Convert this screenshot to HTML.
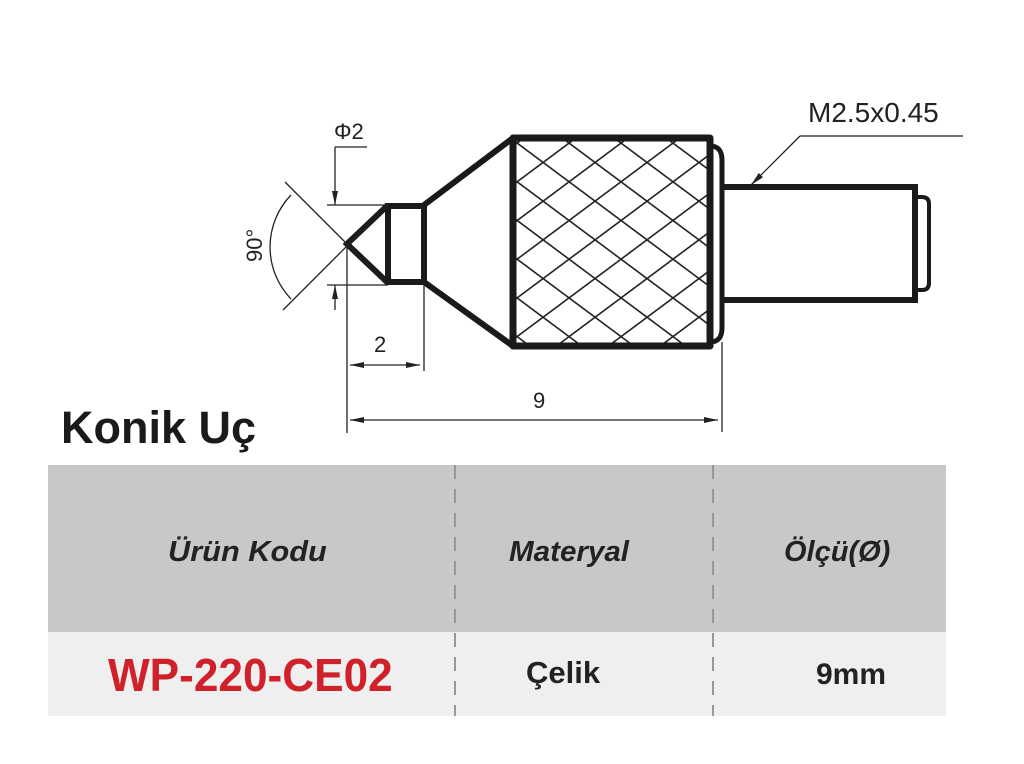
<!DOCTYPE html>
<html><head><meta charset="utf-8"><style>
body{margin:0;width:1024px;height:764px;background:#fff;overflow:hidden;position:relative;font-family:"Liberation Sans",sans-serif}
svg{position:absolute;left:0;top:0}
.t{position:absolute;white-space:nowrap;transform-origin:0 0}
</style></head><body>
<svg width="1024" height="764" viewBox="0 0 1024 764">
<defs>
<clipPath id="c"><rect x="516" y="141" width="193" height="202"/></clipPath>
<marker id="b" viewBox="0 0 14 6" refX="14" refY="3" markerWidth="14" markerHeight="6" markerUnits="userSpaceOnUse" orient="auto"><path d="M0,0L14,3L0,6z" fill="#222"/></marker>
</defs>
<rect x="48" y="465" width="898" height="167" fill="#c8c8c8"/>
<rect x="48" y="632" width="898" height="84" fill="#efeff0"/>
<line x1="455" y1="465" x2="455" y2="716" stroke="#999" stroke-width="2" stroke-dasharray="14,10"/>
<line x1="713" y1="465" x2="713" y2="716" stroke="#999" stroke-width="2" stroke-dasharray="14,10"/>
<g clip-path="url(#c)" stroke="#222" stroke-width="1.6">
<line x1="510" y1="-17" x2="715" y2="135.7"/><line x1="510" y1="21.7" x2="715" y2="174.4"/><line x1="510" y1="60.4" x2="715" y2="213.1"/><line x1="510" y1="99.1" x2="715" y2="251.8"/><line x1="510" y1="137.8" x2="715" y2="290.5"/><line x1="510" y1="176.5" x2="715" y2="329.2"/><line x1="510" y1="215.2" x2="715" y2="367.9"/><line x1="510" y1="253.9" x2="715" y2="406.6"/><line x1="510" y1="292.6" x2="715" y2="445.3"/><line x1="510" y1="331.3" x2="715" y2="484"/>
<line x1="510" y1="148.4" x2="715" y2="-4.3"/><line x1="510" y1="187.1" x2="715" y2="34.4"/><line x1="510" y1="225.8" x2="715" y2="73.1"/><line x1="510" y1="264.5" x2="715" y2="111.8"/><line x1="510" y1="303.2" x2="715" y2="150.5"/><line x1="510" y1="341.9" x2="715" y2="189.2"/><line x1="510" y1="380.6" x2="715" y2="227.9"/><line x1="510" y1="419.3" x2="715" y2="266.6"/><line x1="510" y1="458" x2="715" y2="305.3"/><line x1="510" y1="496.7" x2="715" y2="344"/>
</g>
<rect x="513" y="138" width="197" height="208" fill="none" stroke="#1a1a1a" stroke-width="7" stroke-linejoin="round"/>
<path d="M710,146 Q722,146 722,160 L722,328 Q722,342 710,342" fill="none" stroke="#1a1a1a" stroke-width="5"/>
<path d="M722,187 L915,187 L915,300 L722,300" fill="none" stroke="#1a1a1a" stroke-width="6"/>
<path d="M915,197 L922,197 Q929,197 929,204 L929,283 Q929,290 922,290 L915,290" fill="none" stroke="#1a1a1a" stroke-width="4"/>
<path d="M513,138 L424,205 M513,346 L424,282" stroke="#1a1a1a" stroke-width="6"/>
<rect x="388" y="206" width="36" height="76" fill="none" stroke="#1a1a1a" stroke-width="6"/>
<path d="M388,205 L347,244 L388,283" fill="none" stroke="#1a1a1a" stroke-width="6"/>
<g stroke="#222" stroke-width="1.3" fill="none">
<line x1="285" y1="182" x2="388" y2="285"/>
<line x1="283" y1="310" x2="388" y2="205"/>
<path d="M291,195 A75,75 0 0 0 291,299"/>
<line x1="327" y1="205" x2="388" y2="205"/>
<line x1="327" y1="285" x2="388" y2="285"/>
<line x1="367" y1="147" x2="335" y2="147"/>
<line x1="335" y1="147" x2="335" y2="205" marker-end="url(#b)"/>
<line x1="335" y1="310" x2="335" y2="285" marker-end="url(#b)"/>
<line x1="347" y1="244" x2="347" y2="433"/>
<line x1="424" y1="285" x2="424" y2="371"/>
<line x1="722" y1="342" x2="722" y2="432"/>
<line x1="386" y1="365" x2="350" y2="365" marker-end="url(#b)"/>
<line x1="386" y1="365" x2="420" y2="365" marker-end="url(#b)"/>
<line x1="530" y1="420" x2="350" y2="420" marker-end="url(#b)"/>
<line x1="530" y1="420" x2="718" y2="420" marker-end="url(#b)"/>
<line x1="963" y1="136" x2="800" y2="136"/>
<line x1="800" y1="136" x2="751" y2="185" marker-end="url(#b)"/>
</g>
<text x="334" y="139" font-size="22" fill="#222" font-family="Liberation Sans">Φ2</text>
<text x="0" y="0" font-size="22" fill="#222" font-family="Liberation Sans" transform="translate(262,262) rotate(-90)">90°</text>
<text x="374" y="352" font-size="22" fill="#222" font-family="Liberation Sans">2</text>
<text x="533" y="408" font-size="22" fill="#222" font-family="Liberation Sans">9</text>
<text x="808" y="122" font-size="28" fill="#222" font-family="Liberation Sans">M2.5x0.45</text>
</svg>
<div class="t" style="left:61px;top:402px;font-size:45px;font-weight:bold;color:#1a1a1a">Konik Uç</div>
<div class="t" style="left:168px;top:536px;font-size:29px;font-weight:bold;font-style:italic;color:#222;transform:scaleX(1.06)">Ürün Kodu</div>
<div class="t" style="left:509px;top:536px;font-size:29px;font-weight:bold;font-style:italic;color:#222;transform:scaleX(1.02)">Materyal</div>
<div class="t" style="left:784px;top:536px;font-size:29px;font-weight:bold;font-style:italic;color:#222">Ölçü(Ø)</div>
<div class="t" style="left:108px;top:648px;font-size:46px;font-weight:bold;color:#d0202a;transform:scaleX(0.96)">WP-220-CE02</div>
<div class="t" style="left:526px;top:655px;font-size:31px;font-weight:bold;color:#222">Çelik</div>
<div class="t" style="left:816px;top:658px;font-size:30px;font-weight:bold;color:#222">9mm</div>
</body></html>
